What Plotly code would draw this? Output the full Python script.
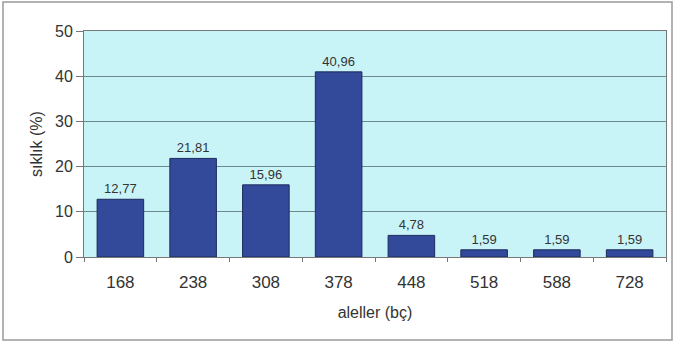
import plotly.graph_objects as go

# Allele sizes (bp) and their frequencies (%)
alleles = ["168", "238", "308", "378", "448", "518", "588", "728"]
frequency = [12.77, 21.81, 15.96, 40.96, 4.78, 1.59, 1.59, 1.59]
labels = [f"{v:.2f}".replace(".", ",") for v in frequency]

W, H = 675, 343
L, R, T, B = 84, 9, 31, 86
pw, ph = W - L - R, H - T - B

fig = go.Figure(
    go.Bar(
        x=alleles,
        y=frequency,
        text=labels,
        textposition="outside",
        textfont=dict(family="Liberation Sans, Arial", size=13, color="#333333"),
        cliponaxis=False,
        marker=dict(color="#33499a", line=dict(color="#1e2a5c", width=1)),
        width=0.64,
    )
)

fig.update_layout(
    width=W,
    height=H,
    margin=dict(l=L, r=R, t=T, b=B),
    paper_bgcolor="white",
    plot_bgcolor="#c9f4f7",
    showlegend=False,
    font=dict(family="Liberation Sans, Arial", color="#333333"),
    xaxis=dict(
        title=dict(text="aleller (bç)", font=dict(size=16), standoff=15),
        tickfont=dict(size=17),
        ticklabelstandoff=10,
        tickson="boundaries",
        ticks="outside",
        ticklen=4,
        tickcolor="#777777",
        showline=True,
        linecolor="#777777",
        linewidth=1,
        mirror=True,
        showgrid=False,
    ),
    yaxis=dict(
        title=dict(text="sıklık (%)", font=dict(size=16), standoff=8),
        range=[0, 50],
        dtick=10,
        tickfont=dict(size=16),
        ticks="outside",
        ticklen=7,
        tickcolor="#777777",
        showline=True,
        linecolor="#777777",
        linewidth=1,
        mirror=True,
        gridcolor="#6f8a8c",
        gridwidth=1,
        zeroline=False,
    ),
    shapes=[
        dict(
            type="rect",
            xref="paper",
            yref="paper",
            x0=(3 - L) / pw,
            x1=(672 - L) / pw,
            y0=-(340 - (T + ph)) / ph,
            y1=(T + ph - 2) / ph,
            line=dict(color="#9a9a9a", width=1.5),
            layer="below",
        )
    ],
)

fig.write_html("out.html")
